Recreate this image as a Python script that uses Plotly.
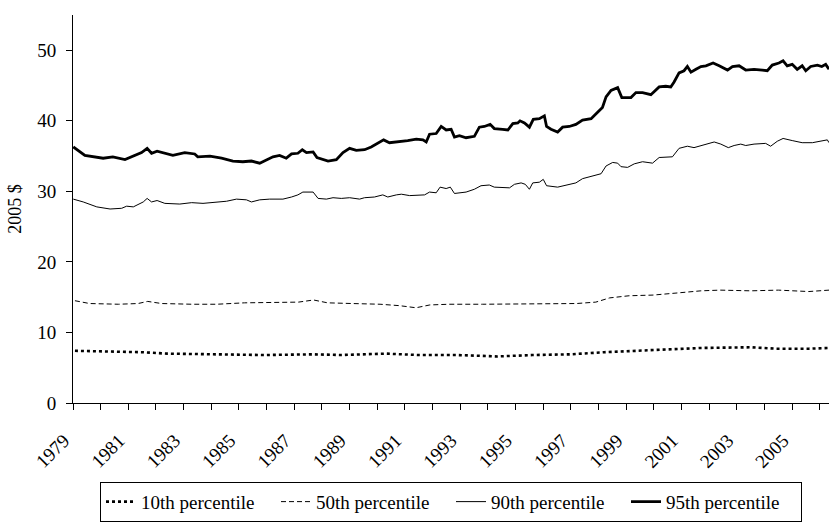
import plotly.graph_objects as go

# ---- data ----
years_p95 = [1979.01, 1979.43, 1980.09, 1980.44, 1980.88, 1981.24, 1981.48, 1981.68, 1981.84, 1982.04,
             1982.38, 1982.61, 1983.04, 1983.40, 1983.51, 1983.95, 1984.37, 1984.78, 1985.14, 1985.45,
             1985.75, 1986.23, 1986.47, 1986.71, 1986.90, 1987.13, 1987.29, 1987.44, 1987.68, 1987.82,
             1988.22, 1988.52, 1988.76, 1989.00, 1989.24, 1989.54, 1989.78, 1990.02, 1990.23, 1990.44,
             1990.74, 1991.10, 1991.41, 1991.65, 1991.77, 1991.89, 1992.13, 1992.31, 1992.49, 1992.67,
             1992.79, 1992.97, 1993.21, 1993.51, 1993.69, 1993.87, 1994.08, 1994.23, 1994.53, 1994.72,
             1994.90, 1995.08, 1995.16, 1995.32, 1995.50, 1995.64, 1995.86, 1996.04, 1996.12, 1996.28,
             1996.52, 1996.70, 1996.94, 1997.18, 1997.42, 1997.73, 1997.91, 1998.14, 1998.27, 1998.45,
             1998.69, 1998.84, 1999.17, 1999.35, 1999.59, 1999.89, 2000.19, 2000.43, 2000.61, 2000.73,
             2000.91, 2001.09, 2001.21, 2001.34, 2001.52, 2001.70, 2001.88, 2002.14, 2002.36, 2002.66,
             2002.84, 2003.08, 2003.32, 2003.62, 2003.92, 2004.10, 2004.28, 2004.52, 2004.67, 2004.82,
             2005.00, 2005.18, 2005.36, 2005.49, 2005.67, 2005.91, 2006.07, 2006.21, 2006.33]
p95 = [36.3, 35.1, 34.7, 34.9, 34.5, 35.1, 35.5, 36.1, 35.4, 35.7,
       35.4, 35.1, 35.5, 35.3, 34.9, 35.0, 34.7, 34.3, 34.2, 34.3,
       34.0, 34.9, 35.1, 34.7, 35.3, 35.4, 35.9, 35.5, 35.6, 34.8,
       34.3, 34.5, 35.5, 36.1, 35.8, 35.9, 36.3, 36.9, 37.3, 36.9,
       37.0, 37.2, 37.4, 37.3, 37.0, 38.1, 38.2, 39.2, 38.7, 38.8,
       37.7, 37.9, 37.6, 37.8, 39.1, 39.2, 39.5, 38.9, 38.8, 38.7,
       39.6, 39.7, 40.0, 39.7, 39.1, 40.2, 40.3, 40.7, 39.2, 38.8,
       38.4, 39.1, 39.2, 39.5, 40.1, 40.3, 41.0, 41.9, 43.4, 44.3,
       44.7, 43.3, 43.3, 44.0, 44.0, 43.7, 44.8, 44.9, 44.8, 45.5,
       46.8, 47.1, 47.7, 46.9, 47.3, 47.7, 47.8, 48.2, 47.8, 47.2,
       47.7, 47.8, 47.2, 47.3, 47.2, 47.1, 47.9, 48.2, 48.5, 47.8,
       48.0, 47.3, 47.8, 47.1, 47.7, 47.9, 47.7, 48.0, 47.3]

years_p90 = [1979.01, 1979.37, 1979.86, 1980.34, 1980.76, 1980.94, 1981.18, 1981.36, 1981.54, 1981.68,
             1981.84, 1982.04, 1982.32, 1982.86, 1983.29, 1983.70, 1984.19, 1984.55, 1984.91, 1985.27,
             1985.45, 1985.75, 1986.11, 1986.59, 1986.90, 1987.13, 1987.31, 1987.68, 1987.86, 1988.16,
             1988.40, 1988.70, 1989.00, 1989.36, 1989.54, 1989.90, 1990.20, 1990.38, 1990.69, 1990.87,
             1991.17, 1991.47, 1991.71, 1991.89, 1992.13, 1992.27, 1992.49, 1992.64, 1992.79, 1993.21,
             1993.51, 1993.75, 1994.05, 1994.23, 1994.53, 1994.78, 1994.96, 1995.20, 1995.35, 1995.50,
             1995.62, 1995.86, 1996.00, 1996.12, 1996.52, 1996.82, 1997.18, 1997.42, 1997.78, 1998.09,
             1998.27, 1998.51, 1998.69, 1998.81, 1999.05, 1999.29, 1999.59, 1999.95, 2000.19, 2000.43,
             2000.67, 2000.91, 2001.21, 2001.45, 2001.70, 2002.18, 2002.42, 2002.69, 2002.90, 2003.14,
             2003.32, 2003.62, 2004.04, 2004.22, 2004.46, 2004.67, 2005.00, 2005.36, 2005.73, 2006.03,
             2006.27, 2006.33]
p90 = [28.9, 28.5, 27.8, 27.5, 27.6, 27.9, 27.8, 28.2, 28.5, 29.0,
       28.5, 28.7, 28.3, 28.2, 28.4, 28.3, 28.5, 28.6, 28.9, 28.8,
       28.5, 28.8, 28.9, 28.9, 29.2, 29.5, 29.9, 29.9, 29.0, 28.9,
       29.1, 29.0, 29.1, 28.9, 29.1, 29.2, 29.5, 29.2, 29.5, 29.6,
       29.4, 29.5, 29.5, 29.9, 29.8, 30.6, 30.4, 30.6, 29.7, 29.9,
       30.3, 30.8, 30.9, 30.6, 30.6, 30.5, 31.0, 31.2, 31.0, 30.3,
       31.2, 31.3, 31.7, 30.8, 30.6, 30.9, 31.2, 31.8, 32.2, 32.5,
       33.6, 34.1, 34.0, 33.5, 33.4, 33.9, 34.2, 34.0, 34.8, 34.9,
       34.9, 36.1, 36.4, 36.2, 36.5, 37.0, 36.7, 36.2, 36.5, 36.7,
       36.5, 36.7, 36.8, 36.4, 37.1, 37.5, 37.2, 36.9, 36.9, 37.1,
       37.3, 36.9]

years_p50 = [1979.07, 1979.6, 1980.65, 1981.35, 1981.7, 1982.2, 1983.3, 1984.2, 1985.2, 1986.3,
             1987.15, 1987.7, 1988.2, 1989.1, 1990.1, 1990.8, 1991.4, 1991.9, 1992.6, 1993.8,
             1995.05, 1996.1, 1997.2, 1997.9, 1998.4, 1999.1, 1999.97, 2000.85, 2001.7, 2002.4,
             2003.5, 2004.5, 2005.6, 2006.33]
p50 = [14.5, 14.1, 14.0, 14.1, 14.4, 14.1, 14.0, 14.0, 14.2, 14.3,
       14.3, 14.6, 14.2, 14.1, 14.0, 13.8, 13.5, 13.9, 14.0, 14.0,
       14.0, 14.0, 14.1, 14.3, 14.9, 15.2, 15.3, 15.6, 15.9, 16.0,
       15.9, 16.0, 15.8, 16.0]

years_p10 = [1979.07, 1981.5, 1982.4, 1984.2, 1985.9, 1987.7, 1988.7, 1990.3, 1991.5, 1992.9,
             1994.35, 1995.6, 1997.0, 1998.2, 1999.97, 2001.7, 2003.5, 2004.4, 2005.6, 2006.33]
p10 = [7.4, 7.2, 7.0, 6.9, 6.8, 6.9, 6.8, 7.0, 6.8, 6.8,
       6.6, 6.8, 6.9, 7.2, 7.5, 7.8, 7.9, 7.7, 7.7, 7.8]

label_years = list(range(1979, 2007, 2))
tick_years = list(range(1979, 2007))
y_ticks = [0, 10, 20, 30, 40, 50]

FONT = "Liberation Serif, DejaVu Serif, serif"

fig = go.Figure()
fig.add_trace(go.Scatter(x=years_p10, y=p10, mode="lines", name="10th percentile",
                         line=dict(color="black", width=2.6, dash="3px,3px")))
fig.add_trace(go.Scatter(x=years_p50, y=p50, mode="lines", name="50th percentile",
                         line=dict(color="black", width=1, dash="5px,3px")))
fig.add_trace(go.Scatter(x=years_p90, y=p90, mode="lines", name="90th percentile",
                         line=dict(color="black", width=1)))
fig.add_trace(go.Scatter(x=years_p95, y=p95, mode="lines", name="95th percentile",
                         line=dict(color="black", width=2.8)))

fig.update_layout(
    width=833, height=522,
    margin=dict(l=73, r=4, t=15, b=119, autoexpand=False),
    paper_bgcolor="white", plot_bgcolor="white",
    font=dict(family=FONT, size=19, color="black"),
    showlegend=True,
    legend=dict(orientation="h", x=0.5, xanchor="center", y=-0.203, yanchor="top",
                bordercolor="black", borderwidth=1, font=dict(family=FONT, size=19),
                entrywidth=130, entrywidthmode="pixels", itemwidth=30,
                tracegroupgap=0),
    xaxis=dict(range=[1979, 2006.33], showgrid=False, zeroline=False, automargin=False,
               showline=True, linecolor="black", linewidth=1,
               tickmode="array", tickvals=label_years, ticktext=[str(y) for y in label_years],
               ticks="outside", ticklen=6, tickcolor="black", tickangle=-45,
               ticklabelstandoff=12, ticklabelshift=-9,
               tickfont=dict(family=FONT, size=19),
               minor=dict(tickmode="array", tickvals=tick_years, ticks="outside",
                          ticklen=6, tickcolor="black", showgrid=False)),
    yaxis=dict(range=[0, 55], showgrid=False, zeroline=False, automargin=False,
               showline=True, linecolor="black", linewidth=1,
               tickmode="array", tickvals=y_ticks,
               ticks="outside", ticklen=6, tickcolor="black", ticklabelstandoff=6,
               tickfont=dict(family=FONT, size=19),
               title=dict(text="2005 $", font=dict(family=FONT, size=18), standoff=10)),
)

fig.write_html("out.html", config={"displayModeBar": False},
               post_script="document.body.style.margin='0';")
